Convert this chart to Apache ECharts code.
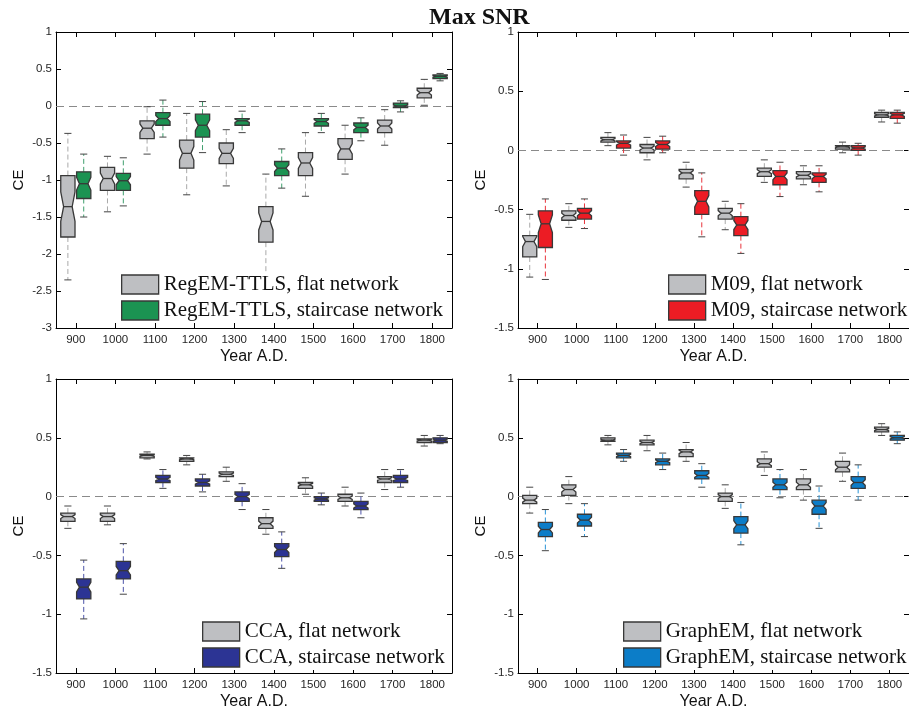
<!DOCTYPE html>
<html>
<head>
<meta charset="utf-8">
<title>Max SNR</title>
<script src="https://cdn.jsdelivr.net/npm/echarts@6/dist/echarts.min.js"></script>
<style>
html, body { margin: 0; padding: 0; background: #fff; }
#main { width: 909px; height: 711px; }
</style>
</head>
<body>
<div id="main"></div>
<script>
// centuries on the x axis
var years = [900, 1000, 1100, 1200, 1300, 1400, 1500, 1600, 1700, 1800];

// each row: [lower whisker, q1, median, q3, upper whisker]
var regemFlat = [
    [-2.35, -1.77, -1.36, -0.94, -0.37],
    [-1.43, -1.14, -0.98, -0.83, -0.68],
    [-0.65, -0.44, -0.30, -0.20, -0.01],
    [-1.20, -0.84, -0.64, -0.46, -0.10],
    [-1.08, -0.78, -0.64, -0.50, -0.32],
    [-2.40, -1.84, -1.56, -1.36, -0.92],
    [-1.22, -0.94, -0.77, -0.63, -0.36],
    [-0.92, -0.72, -0.58, -0.44, -0.26],
    [-0.53, -0.36, -0.27, -0.19, -0.05],
    [0.01, 0.11, 0.18, 0.24, 0.36]
];
var regemStair = [
    [-1.50, -1.25, -1.05, -0.89, -0.65],
    [-1.35, -1.14, -1.01, -0.91, -0.70],
    [-0.42, -0.26, -0.17, -0.09, 0.08],
    [-0.63, -0.42, -0.26, -0.11, 0.06],
    [-0.36, -0.26, -0.20, -0.17, -0.07],
    [-1.11, -0.94, -0.84, -0.75, -0.58],
    [-0.36, -0.27, -0.21, -0.17, -0.10],
    [-0.47, -0.36, -0.29, -0.23, -0.16],
    [-0.08, -0.02, 0.00, 0.04, 0.07],
    [0.34, 0.37, 0.40, 0.42, 0.44]
];
var m09Flat = [
    [-1.07, -0.90, -0.77, -0.72, -0.54],
    [-0.65, -0.59, -0.55, -0.51, -0.45],
    [0.04, 0.07, 0.09, 0.11, 0.15],
    [-0.08, -0.02, 0.02, 0.05, 0.11],
    [-0.31, -0.24, -0.19, -0.16, -0.10],
    [-0.67, -0.58, -0.53, -0.49, -0.43],
    [-0.27, -0.22, -0.18, -0.15, -0.08],
    [-0.29, -0.24, -0.21, -0.18, -0.13],
    [-0.02, 0.01, 0.03, 0.04, 0.07],
    [0.24, 0.28, 0.30, 0.32, 0.34]
];
var m09Stair = [
    [-1.09, -0.82, -0.62, -0.51, -0.41],
    [-0.66, -0.58, -0.53, -0.49, -0.41],
    [-0.04, 0.02, 0.06, 0.08, 0.13],
    [-0.02, 0.01, 0.05, 0.08, 0.12],
    [-0.73, -0.54, -0.43, -0.34, -0.19],
    [-0.87, -0.72, -0.63, -0.56, -0.45],
    [-0.39, -0.29, -0.22, -0.17, -0.10],
    [-0.35, -0.27, -0.22, -0.19, -0.13],
    [-0.04, 0.00, 0.02, 0.04, 0.06],
    [0.23, 0.27, 0.30, 0.32, 0.34]
];
var ccaFlat = [
    [-0.27, -0.21, -0.17, -0.14, -0.08],
    [-0.24, -0.21, -0.17, -0.14, -0.08],
    [0.32, 0.33, 0.35, 0.36, 0.38],
    [0.27, 0.30, 0.32, 0.33, 0.35],
    [0.13, 0.17, 0.19, 0.21, 0.25],
    [-0.32, -0.27, -0.23, -0.18, -0.11],
    [0.02, 0.07, 0.10, 0.12, 0.16],
    [-0.08, -0.04, -0.01, 0.02, 0.08],
    [0.06, 0.12, 0.15, 0.17, 0.23],
    [0.43, 0.46, 0.48, 0.49, 0.52]
];
var ccaStair = [
    [-1.04, -0.87, -0.77, -0.70, -0.54],
    [-0.83, -0.70, -0.63, -0.55, -0.40],
    [0.07, 0.12, 0.15, 0.18, 0.23],
    [0.04, 0.09, 0.12, 0.15, 0.19],
    [-0.11, -0.04, 0.00, 0.04, 0.11],
    [-0.61, -0.51, -0.45, -0.40, -0.30],
    [-0.07, -0.04, -0.02, 0.00, 0.03],
    [-0.18, -0.11, -0.08, -0.04, 0.03],
    [0.08, 0.12, 0.15, 0.18, 0.23],
    [0.45, 0.46, 0.48, 0.50, 0.52]
];
var graphemFlat = [
    [-0.14, -0.06, -0.03, 0.01, 0.08],
    [-0.06, 0.01, 0.06, 0.10, 0.17],
    [0.44, 0.47, 0.48, 0.50, 0.52],
    [0.39, 0.44, 0.46, 0.48, 0.52],
    [0.30, 0.34, 0.38, 0.40, 0.46],
    [-0.10, -0.04, 0.00, 0.03, 0.10],
    [0.18, 0.25, 0.28, 0.32, 0.38],
    [-0.03, 0.06, 0.10, 0.15, 0.23],
    [0.13, 0.21, 0.25, 0.30, 0.37],
    [0.52, 0.55, 0.57, 0.59, 0.62]
];
var graphemStair = [
    [-0.46, -0.34, -0.28, -0.22, -0.11],
    [-0.34, -0.25, -0.20, -0.15, -0.06],
    [0.30, 0.33, 0.35, 0.37, 0.40],
    [0.23, 0.27, 0.30, 0.32, 0.37],
    [0.08, 0.15, 0.18, 0.22, 0.28],
    [-0.41, -0.31, -0.24, -0.17, -0.05],
    [-0.01, 0.06, 0.10, 0.15, 0.23],
    [-0.27, -0.15, -0.08, -0.03, 0.09],
    [-0.03, 0.07, 0.12, 0.17, 0.27],
    [0.45, 0.48, 0.50, 0.52, 0.55]
];

var X_MIN = 850, X_MAX = 1850;
var BOX_W = 36;        // box width in years
var OFFSET = 20;       // flat box left of century, staircase right
var NOTCH_FRAC = 0.24; // notch half height as fraction of IQR
var EDGE = '#383838';
var CAP = '#444';
var GREY = '#bebfc2';
var SANS = 'Liberation Sans';
var SERIF = 'Liberation Serif';

// 面板设置
var panels = [
    {flat: regemFlat, stair: regemStair, label: 'RegEM-TTLS', fill: '#1b9352', whisk: '#3f9f6e',
     ymin: -3, grid: {left: 56, top: 32}, leg: {left: 121, top: 274}},
    {flat: m09Flat, stair: m09Stair, label: 'M09', fill: '#ec1c24', whisk: '#e8343c',
     ymin: -1.5, grid: {left: 518, top: 32}, leg: {left: 668, top: 274}},
    {flat: ccaFlat, stair: ccaStair, label: 'CCA', fill: '#2c3494', whisk: '#4c54a8',
     ymin: -1.5, grid: {left: 56, top: 379}, leg: {left: 202, top: 621}},
    {flat: graphemFlat, stair: graphemStair, label: 'GraphEM', fill: '#0c7dc8', whisk: '#2a94d6',
     ymin: -1.5, grid: {left: 518, top: 379}, leg: {left: 623, top: 621}}
];

function makeBox(fill, whisk) {
    return function (params, api) {
        var x = api.value(0);
        var lo = api.value(1), q1 = api.value(2), md = api.value(3), q3 = api.value(4), hi = api.value(5);
        var w = api.size([BOX_W, 0])[0];
        var c = api.coord([x, md]);
        var cx = c[0], yMd = c[1];
        var yLo = api.coord([x, lo])[1];
        var yQ1 = api.coord([x, q1])[1];
        var yQ3 = api.coord([x, q3])[1];
        var yHi = api.coord([x, hi])[1];
        var n = NOTCH_FRAC * (q3 - q1);
        var nUp = api.coord([x, Math.min(q3, md + n)])[1];
        var nDn = api.coord([x, Math.max(q1, md - n)])[1];
        var L = cx - w / 2, R = cx + w / 2, d = w * 0.2, cap = w * 0.25;
        var dash = {stroke: whisk, lineWidth: 1, lineDash: [5, 3]};
        var capStyle = {stroke: CAP, lineWidth: 1};
        return {
            type: 'group',
            children: [
                {type: 'line', shape: {x1: cx, y1: yQ3, x2: cx, y2: yHi}, style: dash},
                {type: 'line', shape: {x1: cx, y1: yQ1, x2: cx, y2: yLo}, style: dash},
                {type: 'line', shape: {x1: cx - cap, y1: yHi, x2: cx + cap, y2: yHi}, style: capStyle},
                {type: 'line', shape: {x1: cx - cap, y1: yLo, x2: cx + cap, y2: yLo}, style: capStyle},
                {type: 'polygon', shape: {points: [
                    [L, yQ3], [R, yQ3], [R, nUp], [R - d, yMd], [R, nDn], [R, yQ1],
                    [L, yQ1], [L, nDn], [L + d, yMd], [L, nUp]
                ]}, style: {fill: fill, stroke: EDGE, lineWidth: 1.3}},
                {type: 'line', shape: {x1: L + d, y1: yMd, x2: R - d, y2: yMd}, style: {stroke: EDGE, lineWidth: 1.3}}
            ]
        };
    };
}

var grids = [], xAxes = [], yAxes = [], series = [], legends = [];
var axisLine = {onZero: false, lineStyle: {color: '#000', width: 1}};

panels.forEach(function (p, k) {
    grids.push({left: p.grid.left, top: p.grid.top, width: 396, height: 296});

    var flatName = p.label + ', flat network';
    var stairName = p.label + ', staircase network';

    xAxes.push({
        type: 'value', gridIndex: k, position: 'bottom', min: X_MIN, max: X_MAX,
        name: 'Year A.D.', nameLocation: 'middle', nameGap: 21,
        nameTextStyle: {fontFamily: SANS, fontSize: 16, color: '#111'},
        axisLine: axisLine,
        axisTick: {inside: true, length: 5, customValues: years, lineStyle: {color: '#000'}},
        axisLabel: {
            customValues: years, margin: 6, fontFamily: SANS, fontSize: 11.5, color: '#262626',
            formatter: function (v) { return String(v); }
        },
        splitLine: {show: false}
    });
    xAxes.push({
        type: 'value', gridIndex: k, position: 'top', min: X_MIN, max: X_MAX,
        axisLine: axisLine,
        axisTick: {inside: true, length: 5, customValues: years, lineStyle: {color: '#000'}},
        axisLabel: {show: false},
        splitLine: {show: false}
    });
    yAxes.push({
        type: 'value', gridIndex: k, position: 'left', min: p.ymin, max: 1, interval: 0.5,
        name: 'CE', nameLocation: 'middle', nameGap: 30,
        nameTextStyle: {fontFamily: SANS, fontSize: 15, color: '#111'},
        axisLine: axisLine,
        axisTick: {inside: true, length: 5, lineStyle: {color: '#000'}},
        axisLabel: {margin: 4, fontFamily: SANS, fontSize: 11.5, color: '#262626'},
        splitLine: {show: false}
    });
    yAxes.push({
        type: 'value', gridIndex: k, position: 'right', min: p.ymin, max: 1, interval: 0.5,
        axisLine: axisLine,
        axisTick: {inside: true, length: 5, lineStyle: {color: '#000'}},
        axisLabel: {show: false},
        splitLine: {show: false}
    });

    series.push({
        type: 'custom', name: flatName, xAxisIndex: 2 * k, yAxisIndex: 2 * k, z: 3,
        data: years.map(function (yr, i) { return [yr - OFFSET].concat(p.flat[i]); }),
        encode: {x: 0, y: [1, 2, 3, 4, 5]},
        itemStyle: {color: GREY},
        renderItem: makeBox(GREY, '#a9a9a9'),
        markLine: {
            silent: true, symbol: 'none', z: 1, label: {show: false},
            lineStyle: {color: '#8a8a8a', type: [8, 5], width: 1.2},
            data: [{yAxis: 0}]
        }
    });
    series.push({
        type: 'custom', name: stairName, xAxisIndex: 2 * k, yAxisIndex: 2 * k, z: 3,
        data: years.map(function (yr, i) { return [yr + OFFSET].concat(p.stair[i]); }),
        encode: {x: 0, y: [1, 2, 3, 4, 5]},
        itemStyle: {color: p.fill},
        renderItem: makeBox(p.fill, p.whisk)
    });

    legends.push({
        orient: 'vertical', left: p.leg.left - 4, top: p.leg.top - 2,
        padding: [2, 4], backgroundColor: '#fff',
        itemWidth: 37, itemHeight: 19, itemGap: 5, selectedMode: false,
        textStyle: {fontFamily: SERIF, fontSize: 21, color: '#111', lineHeight: 19},
        data: [
            {name: flatName, icon: 'rect', itemStyle: {color: GREY, borderColor: EDGE, borderWidth: 1.3}},
            {name: stairName, icon: 'rect', itemStyle: {color: p.fill, borderColor: EDGE, borderWidth: 1.3}}
        ]
    });
});

var chart = echarts.init(document.getElementById('main'));
chart.setOption({
    animation: false,
    backgroundColor: '#fff',
    title: {
        text: 'Max SNR', left: 429, top: 6, padding: 0,
        textStyle: {fontFamily: SERIF, fontSize: 24, fontWeight: 'bold', color: '#111'}
    },
    grid: grids,
    xAxis: xAxes,
    yAxis: yAxes,
    legend: legends,
    series: series
});
</script>
</body>
</html>
